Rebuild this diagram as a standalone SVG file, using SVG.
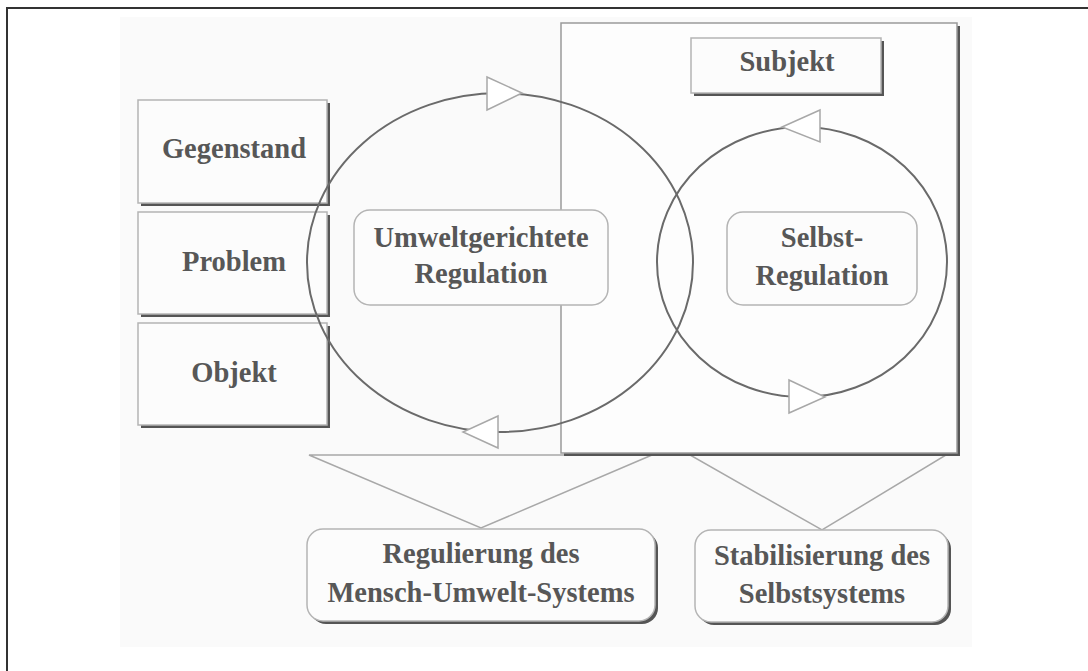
<svg xmlns="http://www.w3.org/2000/svg" width="1088" height="671" viewBox="0 0 1088 671">
  <style>
    .lbl { font-family: "Liberation Serif", "Times New Roman", serif; font-weight: bold; font-size: 28.5px; fill: #575757; text-anchor: middle; }
    .box { fill: #fcfcfc; stroke: #b4b4b4; stroke-width: 1.5; }
    .shadow { fill: #555555; }
    .loop { fill: none; stroke: #6a6a6a; stroke-width: 2; }
    .head { fill: #ffffff; stroke: #a8a8a8; stroke-width: 1.5; stroke-linejoin: miter; }
    .fan { fill: none; stroke: #a8a8a8; stroke-width: 1.5; }
  </style>

  <!-- page frame and panel -->
  <rect x="0" y="0" width="1088" height="671" fill="#ffffff"/>
  <path d="M7,671 V8 H1088" fill="none" stroke="#333" stroke-width="2"/>
  <rect x="120" y="17" width="852" height="630" fill="#fafafa"/>

  <!-- converging connectors -->
  <g id="connectors">
    <polygon class="fan" points="309,455 652,455 481,528"/>
    <polygon class="fan" points="690,455 946,455 822,530"/>
  </g>

  <!-- subject frame -->
  <g id="subject-frame">
    <rect x="564" y="26" width="396" height="430" class="shadow"/>
    <rect x="561" y="23" width="396" height="430" fill="#fdfdfd" stroke="#9a9a9a" stroke-width="1.5"/>
  </g>

  <g id="gegenstand">
    <rect x="141" y="103" width="189" height="103" class="shadow"/>
    <rect x="138" y="100" width="189" height="103" class="box"/>
    <text x="234" y="158" class="lbl">Gegenstand</text>
  </g>
  <g id="problem">
    <rect x="141" y="215" width="189" height="102" class="shadow"/>
    <rect x="138" y="212" width="189" height="102" class="box"/>
    <text x="234" y="271" class="lbl">Problem</text>
  </g>
  <g id="objekt">
    <rect x="141" y="326" width="189" height="102" class="shadow"/>
    <rect x="138" y="323" width="189" height="102" class="box"/>
    <text x="234" y="382" class="lbl">Objekt</text>
  </g>

  <g id="subjekt">
    <rect x="694" y="41" width="190" height="55" class="shadow"/>
    <rect x="691" y="38" width="190" height="55" class="box"/>
    <text x="787" y="71" class="lbl">Subjekt</text>
  </g>

  <g id="umweltgerichtete-regulation">
    <rect x="354" y="210" width="254" height="95" rx="16" class="box"/>
    <text x="481" y="247" class="lbl">Umweltgerichtete</text>
    <text x="481" y="283" class="lbl">Regulation</text>
  </g>

  <g id="selbst-regulation">
    <rect x="727" y="212" width="190" height="93" rx="16" class="box"/>
    <text x="822" y="247" class="lbl">Selbst-</text>
    <text x="822" y="285" class="lbl">Regulation</text>
  </g>

  <!-- regulation loops -->
  <g id="loops">
    <ellipse class="loop" cx="500" cy="262.5" rx="193" ry="169.5"/>
    <ellipse class="loop" cx="802" cy="262" rx="145" ry="135"/>
    <!-- outer loop heads -->
    <polygon class="head" points="487,77 522,93 487,110"/>
    <polygon class="head" points="498,416 463,432 498,448"/>
    <!-- inner loop heads -->
    <polygon class="head" points="820,110 782,127 820,142"/>
    <polygon class="head" points="789,380 825,397 789,413"/>
  </g>

  <g id="regulierung">
    <rect x="310" y="532" width="348" height="92" rx="16" class="shadow"/>
    <rect x="307" y="529" width="348" height="92" rx="16" class="box"/>
    <text x="481" y="563" class="lbl">Regulierung des</text>
    <text x="481" y="602" class="lbl">Mensch-Umwelt-Systems</text>
  </g>

  <g id="stabilisierung">
    <rect x="698" y="533" width="253" height="92" rx="16" class="shadow"/>
    <rect x="695" y="530" width="253" height="92" rx="16" class="box"/>
    <text x="822" y="565" class="lbl">Stabilisierung des</text>
    <text x="822" y="603" class="lbl">Selbstsystems</text>
  </g>
</svg>
